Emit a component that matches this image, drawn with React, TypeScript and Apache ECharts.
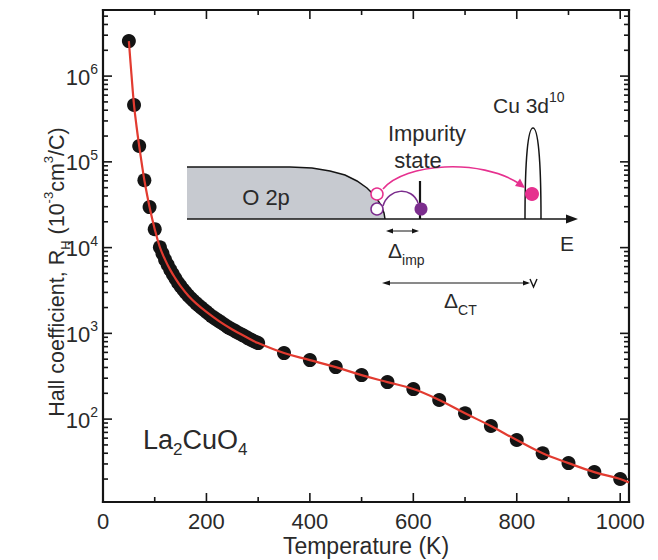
import React, { useEffect, useRef } from "react";
import * as echarts from "echarts";

// ---------- data ----------
const T_LOW = [50, 60, 70, 80, 90, 100, 110];
const R_LOW = [2.56e6, 4.6e5, 1.53e5, 6.1e4, 2.97e4, 1.64e4, 1.01e4];

const T_DENSE = [115, 120, 125, 130, 135, 140, 145, 150, 155, 160, 165, 170, 175, 180, 185, 190, 195, 200, 205, 210, 215, 220, 225, 230, 235, 240, 245, 250, 255, 260, 265, 270, 275, 280, 285, 290, 295, 300];
const R_DENSE = [8510, 7240, 6310, 5500, 4900, 4370, 3890, 3550, 3240, 2985, 2750, 2570, 2400, 2240, 2110, 1995, 1885, 1780, 1680, 1585, 1515, 1445, 1380, 1320, 1260, 1200, 1150, 1110, 1070, 1025, 990, 955, 920, 880, 850, 820, 795, 770];

const T_HIGH = [350, 400, 450, 500, 550, 600, 650, 700, 750, 800, 850, 900, 950, 1000];
const R_HIGH = [589, 488, 404, 326, 270, 224, 167, 117, 83, 57, 40, 30.7, 24.1, 20.0];

const FIT_T = [50, 55, 60, 65, 70, 75, 80, 90, 100, 110, 120, 130, 140, 150, 165, 180, 200, 225, 250, 275, 300, 350, 400, 450, 500, 550, 600, 650, 700, 750, 800, 850, 900, 950, 1000, 1017];
const FIT_R = [2.56e6, 1.05e6, 4.6e5, 2.55e5, 1.53e5, 9.5e4, 6.1e4, 2.97e4, 1.64e4, 1.01e4, 7240, 5500, 4370, 3550, 2750, 2240, 1780, 1380, 1110, 920, 770, 589, 488, 404, 326, 270, 224, 167, 117, 83, 57, 40, 30.7, 24.1, 20.0, 18.2];

const X_MAJOR = [0, 200, 400, 600, 800, 1000];
const X_LABELS = ["0", "200", "400", "600", "800", "1000"];
const X_MINOR = [100, 300, 500, 700, 900];
const Y_MAJOR = [1e2, 1e3, 1e4, 1e5, 1e6];
const Y_EXP = ["2", "3", "4", "5", "6"];

const X_MIN = 0;
const X_MAX = 1017;
const Y_MIN = 10.8;
const Y_MAX = 5.9e6;

const GRID = { left: 103, top: 10, right: 29, bottom: 58 };
const W = 658;
const H = 560;

const Y_MINOR: number[] = [];
for (let d = 1; d <= 6; d++) {
  for (let k = 2; k <= 9; k++) {
    const v = k * Math.pow(10, d);
    if (v > Y_MIN && v < Y_MAX) Y_MINOR.push(v);
  }
}

const FONT = "'Liberation Sans', Arial, Helvetica, sans-serif";
const TXT = "#2a2a2a";
const INK = "#151515";
const PINK = "#e6318f";
const PURPLE = "#7b2d8d";

function renderFrame(params: any, api: any) {
  if (params.dataIndex !== 0) return null;
  const ch: any[] = [];
  const lb = api.coord([X_MIN, Y_MIN]);
  const rt = api.coord([X_MAX, Y_MAX]);
  const left = lb[0], bottom = lb[1], right = rt[0], top = rt[1];
  const seg = (x1: number, y1: number, x2: number, y2: number, w = 1.6) =>
    ch.push({ type: "line", shape: { x1, y1, x2, y2 }, style: { stroke: INK, lineWidth: w } });
  const bar = (x: number, y: number, w: number, h: number) =>
    ch.push({ type: "rect", shape: { x, y, width: w, height: h }, style: { fill: INK } });

  // frame drawn as filled bars
  bar(left - 1.1, top - 1.1, 2.2, bottom - top + 2.2);
  bar(right - 1.1, top - 1.1, 2.2, bottom - top + 2.2);
  bar(left - 1.1, top - 1.1, right - left + 2.2, 2.2);
  bar(left - 1.1, bottom - 1.1, right - left + 2.2, 2.2);

  X_MAJOR.forEach((v, i) => {
    const x = api.coord([v, Y_MIN])[0];
    seg(x, bottom, x, bottom - 9);
    seg(x, top, x, top + 9);
    ch.push({
      type: "text",
      x,
      y: bottom + 8,
      style: { text: X_LABELS[i], fontSize: 22, fontFamily: FONT, fill: TXT, align: "center", verticalAlign: "top" },
    });
  });
  X_MINOR.forEach((v) => {
    const x = api.coord([v, Y_MIN])[0];
    seg(x, bottom, x, bottom - 5);
    seg(x, top, x, top + 5);
  });
  Y_MAJOR.forEach((v, i) => {
    const y = api.coord([X_MIN, v])[1];
    seg(left, y, left + 9, y);
    seg(right, y, right - 9, y);
    ch.push({
      type: "text",
      x: left - 5,
      y: y + 1,
      style: {
        text: "{b|10}{s|" + Y_EXP[i] + "}",
        align: "right",
        verticalAlign: "middle",
        rich: {
          b: { fontSize: 22, fontFamily: FONT, fill: TXT, lineHeight: 30 },
          s: { fontSize: 14, fontFamily: FONT, fill: TXT, lineHeight: 16, verticalAlign: "top" },
        },
      },
    });
  });
  Y_MINOR.forEach((v) => {
    const y = api.coord([X_MIN, v])[1];
    seg(left, y, left + 5, y);
    seg(right, y, right - 5, y);
  });
  return { type: "group", children: ch };
}

function buildInset(): any[] {
  const els: any[] = [];
  const stroke = (color: string, w: number) => ({ stroke: color, lineWidth: w, fill: "none" });
  // O 2p band fill
  const edge = [
    [187, 167], [290, 167], [312, 168], [330, 171], [345, 175], [357, 181],
    [367, 188], [375, 196], [381, 205], [384, 213], [385, 219],
  ];
  els.push({ type: "polygon", shape: { points: [...edge, [187, 219]] }, style: { fill: "#c7cad0" } });
  els.push({ type: "polyline", shape: { points: edge }, style: stroke(INK, 1.5) });
  // energy axis
  els.push({ type: "line", shape: { x1: 187, y1: 219, x2: 570, y2: 219 }, style: stroke(INK, 1.6) });
  els.push({ type: "polygon", shape: { points: [[566, 214.5], [578, 219], [566, 223.5]] }, style: { fill: INK } });
  // Cu 3d peak
  els.push({ type: "bezierCurve", shape: { x1: 525, y1: 219, cpx1: 525, cpy1: 158, cpx2: 528, cpy2: 128, x2: 533, y2: 128 }, style: stroke(INK, 1.5) });
  els.push({ type: "bezierCurve", shape: { x1: 533, y1: 128, cpx1: 538, cpy1: 128, cpx2: 541, cpy2: 158, x2: 541, y2: 219 }, style: stroke(INK, 1.5) });
  // impurity level
  els.push({ type: "line", shape: { x1: 420, y1: 181, x2: 420, y2: 219 }, style: stroke(INK, 2.2) });
  // pink transfer arrow
  els.push({ type: "bezierCurve", shape: { x1: 383, y1: 189, cpx1: 405, cpy1: 163, cpx2: 480, cpy2: 158, x2: 520, y2: 184 }, style: stroke(PINK, 1.6) });
  els.push({ type: "polygon", shape: { points: [[525, 188], [515, 186], [520, 178.5]] }, style: { fill: PINK } });
  // purple arc
  els.push({ type: "bezierCurve", shape: { x1: 383, y1: 206, cpx1: 388, cpy1: 188, cpx2: 412, cpy2: 186, x2: 418, y2: 203 }, style: stroke(PURPLE, 1.5) });
  // holes and electrons
  els.push({ type: "circle", shape: { cx: 377, cy: 194, r: 6 }, style: { fill: "#fff", stroke: PINK, lineWidth: 1.5 } });
  els.push({ type: "circle", shape: { cx: 377, cy: 209, r: 6 }, style: { fill: "#fff", stroke: PURPLE, lineWidth: 1.5 } });
  els.push({ type: "circle", shape: { cx: 421, cy: 209, r: 6.5 }, style: { fill: PURPLE } });
  els.push({ type: "circle", shape: { cx: 532, cy: 194, r: 7 }, style: { fill: PINK } });
  // Delta imp arrow
  els.push({ type: "line", shape: { x1: 389, y1: 231, x2: 416, y2: 231 }, style: stroke(INK, 1) });
  els.push({ type: "polygon", shape: { points: [[386, 231], [393, 228.5], [393, 233.5]] }, style: { fill: INK } });
  els.push({ type: "polygon", shape: { points: [[419, 231], [412, 228.5], [412, 233.5]] }, style: { fill: INK } });
  // Delta CT arrow
  els.push({ type: "line", shape: { x1: 386, y1: 283, x2: 528, y2: 283 }, style: stroke(INK, 1) });
  els.push({ type: "polygon", shape: { points: [[382, 283], [390, 280.5], [390, 285.5]] }, style: { fill: INK } });
  els.push({ type: "polygon", shape: { points: [[530, 283], [523, 280.5], [523, 285.5]] }, style: { fill: INK } });
  els.push({ type: "polyline", shape: { points: [[530, 279], [533.5, 287], [537, 279]] }, style: stroke(INK, 1.4) });

  const txt = (x: number, y: number, text: string, size: number, align = "center") =>
    els.push({ type: "text", x, y, style: { text, fontSize: size, fontFamily: FONT, fill: TXT, align, verticalAlign: "middle" } });
  txt(266, 197, "O 2p", 22);
  txt(427, 133, "Impurity", 22);
  txt(418, 160, "state", 22);
  txt(567, 243, "E", 21);
  els.push({
    type: "text", x: 493, y: 105,
    style: {
      text: "{m|Cu 3d}{s|10}", align: "left", verticalAlign: "middle",
      rich: {
        m: { fontSize: 21, fontFamily: FONT, fill: TXT, lineHeight: 30 },
        s: { fontSize: 14, fontFamily: FONT, fill: TXT, lineHeight: 16, verticalAlign: "top" },
      },
    },
  });
  const delta = (x: number, y: number, sub: string) =>
    els.push({
      type: "text", x, y,
      style: {
        text: "{m|Δ}{s|" + sub + "}", align: "left", verticalAlign: "middle",
        rich: {
          m: { fontSize: 21, fontFamily: FONT, fill: TXT, lineHeight: 34 },
          s: { fontSize: 14, fontFamily: FONT, fill: TXT, lineHeight: 16, verticalAlign: "bottom" },
        },
      },
    });
  delta(388, 250, "imp");
  delta(444, 300, "CT");
  return els;
}

export default function App() {
  const ref = useRef<HTMLDivElement>(null);
  useEffect(() => {
    if (!ref.current) return;
    const chart = echarts.init(ref.current, undefined, { renderer: "svg" });
    const dots: number[][] = [];
    T_LOW.forEach((t, i) => dots.push([t, R_LOW[i]]));
    T_DENSE.forEach((t, i) => dots.push([t, R_DENSE[i]]));
    T_HIGH.forEach((t, i) => dots.push([t, R_HIGH[i]]));
    const fit = FIT_T.map((t, i) => [t, FIT_R[i]]);

    const hiddenAxis = {
      axisLine: { show: false },
      axisTick: { show: false },
      axisLabel: { show: false },
      splitLine: { show: false },
    };

    chart.setOption({
      animation: false,
      backgroundColor: "#ffffff",
      grid: { ...GRID },
      xAxis: { type: "value", min: X_MIN, max: X_MAX, ...hiddenAxis },
      yAxis: { type: "log", logBase: 10, min: Y_MIN, max: Y_MAX, ...hiddenAxis },
      series: [
        {
          type: "custom",
          coordinateSystem: "cartesian2d",
          renderItem: renderFrame,
          data: [[X_MIN, Y_MIN]],
          clip: false,
          silent: true,
          z: 1,
        },
        {
          type: "scatter",
          data: dots,
          symbol: "circle",
          symbolSize: 14,
          itemStyle: { color: "#141414", opacity: 1 },
          silent: true,
          z: 2,
        },
        {
          type: "line",
          data: fit,
          smooth: 0.4,
          showSymbol: false,
          lineStyle: { color: "#e23b30", width: 2.2 },
          silent: true,
          z: 3,
        },
      ],
      graphic: [
        {
          type: "text", x: 366, y: 546, z: 10,
          style: { text: "Temperature (K)", fontSize: 23, fontFamily: FONT, fill: TXT, align: "center", verticalAlign: "middle" },
        },
        {
          type: "text", x: 57, y: 272, rotation: Math.PI / 2, z: 10,
          style: {
            text: "{m|Hall coefficient, R}{sub|H}{m| (10}{sup|-3}{m|cm}{sup|3}{m|/C)}",
            align: "center", verticalAlign: "middle",
            rich: {
              m: { fontSize: 21.5, fontFamily: FONT, fill: TXT, lineHeight: 30 },
              sub: { fontSize: 13, fontFamily: FONT, fill: TXT, lineHeight: 15, verticalAlign: "bottom" },
              sup: { fontSize: 13, fontFamily: FONT, fill: TXT, lineHeight: 15, verticalAlign: "top" },
            },
          },
        },
        {
          type: "text", x: 143, y: 440, z: 10,
          style: {
            text: "{m|La}{s|2}{m|CuO}{s|4}",
            align: "left", verticalAlign: "middle",
            rich: {
              m: { fontSize: 27, fontFamily: FONT, fill: TXT, lineHeight: 36 },
              s: { fontSize: 17, fontFamily: FONT, fill: TXT, lineHeight: 18, verticalAlign: "bottom" },
            },
          },
        },
        { type: "group", z: 10, children: buildInset() },
      ],
    });
    return () => chart.dispose();
  }, []);
  return (
    <div
      ref={ref}
      style={{ position: "fixed", left: 0, top: 0, width: W, height: H, background: "#fff" }}
    />
  );
}
